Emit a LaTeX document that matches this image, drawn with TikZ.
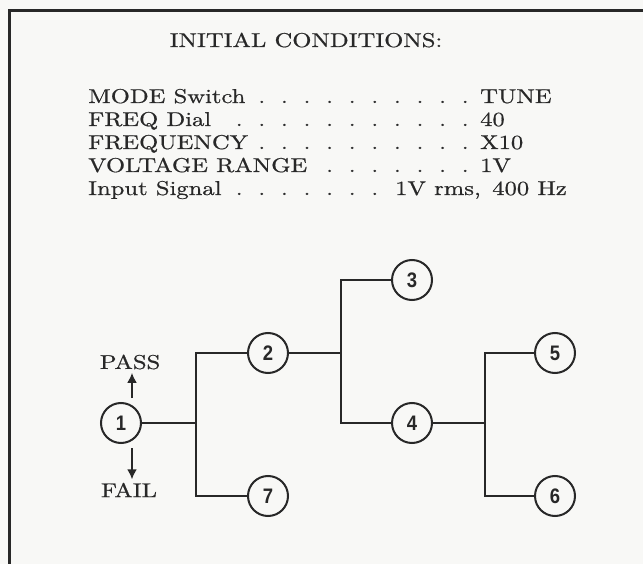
\documentclass[tikz,border=0pt]{standalone}
\usepackage{fontspec}
\setmainfont{lmroman10-regular.otf}[FakeStretch=1.23,FakeBold=0.7]
\newfontfamily\numfont{Liberation Sans}[FakeStretch=0.88]
\usetikzlibrary{arrows.meta}
\definecolor{paper}{RGB}{248,248,246}
\definecolor{ink}{RGB}{40,40,40}
\newcommand{\dotrow}[1]{\foreach \k in {1,...,#1}{\makebox[22.6pt]{.}}}

\begin{document}
\begin{tikzpicture}[x=1pt,y=-1pt,
  every node/.style={text=ink,font=\fontsize{20}{24}\selectfont},
  state/.style={circle,draw=ink,line width=2pt,minimum size=40pt,inner sep=0pt,
    font=\numfont\bfseries\fontsize{21}{21}\selectfont},
  wire/.style={draw=ink,line width=1.5pt},
  flag/.style={draw=ink,line width=1.8pt,-{Latex[length=10pt,width=10pt]}},
  cond/.style={anchor=base west,inner sep=0pt}]
  \useasboundingbox (0,0) rectangle (643,564);
  \fill[paper] (0,0) rectangle (643,564);
  \draw[ink,line width=3pt] (643,11) -- (9,11) -- (9,564);

  % conditions
  \node[anchor=base] (title) at (306,47) {INITIAL CONDITIONS:};
  \node[cond] (mode) at (88,103) {MODE Switch};
  \node[cond] (dial) at (88,126) {FREQ Dial};
  \node[cond] (freq) at (88,149) {FREQUENCY};
  \node[cond] (volt) at (88,172) {VOLTAGE RANGE};
  \node[cond] (input) at (88,195) {Input Signal};
  \node[cond] (moded) at (250.3,103) {\dotrow{10}};
  \node[cond] (diald) at (227.7,126) {\dotrow{11}};
  \node[cond] (freqd) at (250.3,149) {\dotrow{10}};
  \node[cond] (voltd) at (318.1,172) {\dotrow{7}};
  \node[cond] (inputd) at (227.7,195) {\dotrow{7}};
  \node[cond] (modev) at (480,103) {TUNE};
  \node[cond] (dialv) at (480,126) {40};
  \node[cond] (freqv) at (480,149) {X10};
  \node[cond] (voltv) at (480,172) {1V};
  \node[cond] (inputv) at (395,195) {1V rms,\, 400 Hz};

  % test tree
  \node[state] (1) at (121,423) {1};
  \node[state] (2) at (268,353) {2};
  \node[state] (7) at (268,496) {7};
  \node[state] (3) at (412,280) {3};
  \node[state] (4) at (412,423) {4};
  \node[state] (5) at (555,353) {5};
  \node[state] (6) at (555,496) {6};
  \coordinate (j1) at (196,423);
  \coordinate (j2) at (341,353);
  \coordinate (j3) at (485,423);
  \draw[wire] (1) -- (j1);
  \draw[wire] (2) -| (j1) |- (7);
  \draw[wire] (2) -- (j2);
  \draw[wire] (3) -| (j2) |- (4);
  \draw[wire] (4) -- (j3);
  \draw[wire] (5) -| (j3) |- (6);

  \node (pass) at (130,362) {PASS};
  \node (fail) at (129,490) {FAIL};
  \coordinate (up) at (132,398);
  \coordinate (dn) at (132,448);
  \draw[flag] (up) -- (up |- pass.south);
  \draw[flag] (dn) -- (dn |- fail.north);
\end{tikzpicture}
\end{document}
